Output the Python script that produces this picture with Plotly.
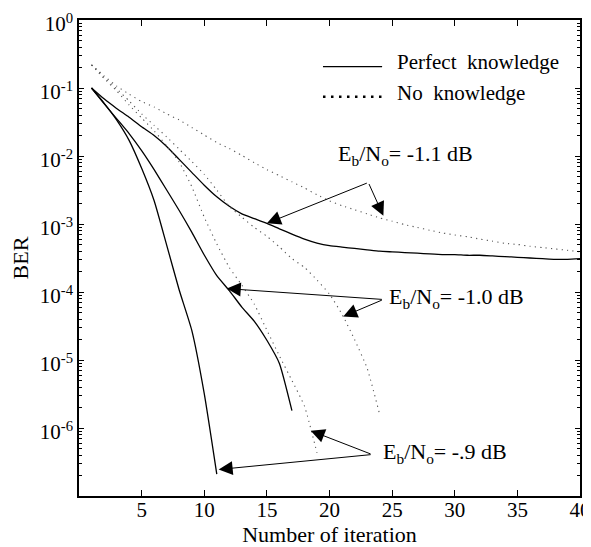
import plotly.graph_objects as go

# ---------------- data ----------------
iters_perf_09 = list(range(1, 12))
ber_perf_09 = [1.0e-1, 6.0e-2, 3.4e-2, 1.7e-2, 6.6e-3, 2.2e-3, 4.9e-4, 1.07e-4,
               2.75e-5, 3.2e-6, 2.1e-7]

iters_perf_10 = list(range(1, 18))
ber_perf_10 = [1.0e-1, 5.9e-2, 3.55e-2, 2.14e-2, 1.2e-2, 6.3e-3, 3.16e-3, 1.58e-3,
               7.6e-4, 3.5e-4, 1.74e-4, 1.05e-4, 6.0e-5, 3.7e-5, 1.95e-5, 8.9e-6,
               1.8e-6]

iters_perf_11 = list(range(1, 41))
ber_perf_11 = [1.0e-1, 6.92e-2, 5.01e-2, 3.72e-2, 2.69e-2, 2.0e-2, 1.38e-2, 8.91e-3,
               5.75e-3, 3.72e-3, 2.51e-3, 1.82e-3, 1.41e-3, 1.20e-3, 1.02e-3, 8.5e-4,
               7.1e-4, 6.0e-4, 5.25e-4, 4.8e-4, 4.57e-4, 4.37e-4, 4.17e-4, 3.98e-4,
               3.89e-4, 3.8e-4, 3.72e-4, 3.63e-4, 3.55e-4, 3.55e-4, 3.47e-4, 3.47e-4,
               3.39e-4, 3.31e-4, 3.24e-4, 3.16e-4, 3.09e-4, 3.02e-4, 3.02e-4, 3.09e-4]

iters_none_09 = list(range(1, 20))
ber_none_09 = [2.19e-1, 1.38e-1, 9.12e-2, 5.62e-2, 3.63e-2, 2.34e-2, 1.41e-2, 8.13e-3,
               3.55e-3, 1.26e-3, 5.1e-4, 2.3e-4, 1.26e-4, 6.6e-5, 2.75e-5, 1.15e-5,
               5.0e-6, 2.1e-6, 4.3e-7]

iters_none_10 = list(range(1, 25))
ber_none_10 = [2.19e-1, 1.45e-1, 9.77e-2, 6.46e-2, 4.17e-2, 2.82e-2, 1.91e-2, 1.26e-2,
               8.32e-3, 5.37e-3, 3.16e-3, 1.82e-3, 1.26e-3, 8.9e-4, 6.6e-4, 4.6e-4,
               3.1e-4, 2.3e-4, 1.5e-4, 9.3e-5, 4.7e-5, 2.0e-5, 7.6e-6, 1.6e-6]

iters_none_11 = list(range(1, 41))
ber_none_11 = [2.19e-1, 1.51e-1, 1.07e-1, 8.13e-2, 6.31e-2, 5.25e-2, 4.17e-2, 3.39e-2,
               2.63e-2, 2.04e-2, 1.58e-2, 1.29e-2, 1.02e-2, 7.94e-3, 6.31e-3, 5.13e-3,
               4.17e-3, 3.39e-3, 2.69e-3, 2.19e-3, 1.86e-3, 1.62e-3, 1.41e-3, 1.23e-3,
               1.10e-3, 9.8e-4, 8.9e-4, 8.1e-4, 7.4e-4, 6.9e-4, 6.5e-4, 6.0e-4,
               5.6e-4, 5.2e-4, 5.0e-4, 4.7e-4, 4.5e-4, 4.3e-4, 4.1e-4, 3.9e-4]

x_tick_vals = [5, 10, 15, 20, 25, 30, 35, 40]
y_tick_vals = [1e0, 1e-1, 1e-2, 1e-3, 1e-4, 1e-5, 1e-6]
y_tick_text = ["10<sup>0</sup>", "10<sup>-1</sup>", "10<sup>-2</sup>", "10<sup>-3</sup>",
               "10<sup>-4</sup>", "10<sup>-5</sup>", "10<sup>-6</sup>"]

legend_labels = ["Perfect  knowledge", "No  knowledge"]
snr_labels = ["E<sub>b</sub>/N<sub>o</sub>= -1.1 dB",
              "E<sub>b</sub>/N<sub>o</sub>= -1.0 dB",
              "E<sub>b</sub>/N<sub>o</sub>= -.9 dB"]

# ---------------- figure ----------------
FONT = "Liberation Serif"
fig = go.Figure()

solid = dict(color="black", width=1.3)
dotted = dict(color="#555555", width=1.1, dash="1.2px,4.2px")

for xs, ys in [(iters_perf_09, ber_perf_09), (iters_perf_10, ber_perf_10),
               (iters_perf_11, ber_perf_11)]:
    fig.add_trace(go.Scatter(x=xs, y=ys, mode="lines",
                             line=dict(**solid, shape="spline", smoothing=0.5),
                             showlegend=False, hoverinfo="skip"))
for xs, ys in [(iters_none_09, ber_none_09), (iters_none_10, ber_none_10),
               (iters_none_11, ber_none_11)]:
    fig.add_trace(go.Scatter(x=xs, y=ys, mode="lines",
                             line=dict(**dotted, shape="spline", smoothing=0.5),
                             showlegend=False, hoverinfo="skip"))

# annotation arrows: (vertex, [tips], label position) in (x, log10 y)
arrow_groups = [
    ((23.1, -2.39), [(15.0, -2.99), (24.3, -2.88)], (20.5, -1.99)),
    ((24.3, -4.11), [(11.8, -3.95), (21.1, -4.36)], (24.6, -4.09)),
    ((23.4, -6.39), [(11.15, -6.61), (18.5, -6.04)], (24.1, -6.37)),
]
for (vx, vy), tips, _ in arrow_groups:
    for hx, hy in tips:
        fig.add_annotation(x=hx, y=hy, ax=vx, ay=vy, xref="x", yref="y", axref="x", ayref="y",
                           showarrow=True, arrowhead=2, arrowsize=2.8, arrowwidth=1,
                           arrowcolor="black", text="", standoff=0)
for (_, _, (tx, ty)), lab in zip(arrow_groups, snr_labels):
    fig.add_annotation(x=tx, y=ty, xref="x", yref="y", text=lab, showarrow=False,
                       xanchor="left", yanchor="middle",
                       font=dict(family=FONT, size=22, color="black"))

# legend (drawn manually)
fig.add_shape(type="line", xref="paper", yref="paper", x0=0.487, x1=0.605, y0=0.902, y1=0.902,
              line=dict(color="black", width=1.2))
fig.add_shape(type="line", xref="paper", yref="paper", x0=0.487, x1=0.605, y0=0.839, y1=0.839,
              line=dict(color="black", width=2.5, dash="2.5px,5.5px"))
fig.add_annotation(x=0.631, y=0.911, xref="paper", yref="paper", text=legend_labels[0],
                   showarrow=False, xanchor="left", yanchor="middle",
                   font=dict(family=FONT, size=21, color="black"))
fig.add_annotation(x=0.631, y=0.846, xref="paper", yref="paper", text=legend_labels[1],
                   showarrow=False, xanchor="left", yanchor="middle",
                   font=dict(family=FONT, size=21, color="black"))

axis_common = dict(showline=True, linecolor="black", linewidth=1.5, mirror="ticks",
                   ticks="inside", tickcolor="black", tickwidth=1, showgrid=False, zeroline=False,
                   ticklabeloverflow="allow",
                   tickfont=dict(family=FONT, size=21, color="black"))

fig.update_xaxes(range=[0, 40], tickmode="array", tickvals=x_tick_vals, ticklen=6,
                 ticklabelstandoff=-6,
                 title=dict(text="Number of iteration",
                            font=dict(family=FONT, size=22, color="black"), standoff=18),
                 **axis_common)
fig.update_yaxes(type="log", range=[-7, 0], tickmode="array", tickvals=y_tick_vals,
                 ticktext=y_tick_text, ticklen=5, ticklabelshift=4,
                 minor=dict(ticks="inside", ticklen=3, dtick="D1", tickcolor="black",
                            showgrid=False),
                 title=dict(text="BER", font=dict(family=FONT, size=22, color="black"),
                            standoff=7),
                 **axis_common)

# the page body has an 8px margin, so the figure is 8px smaller and margins shifted
fig.update_layout(width=583, height=539,
                  margin=dict(l=71, r=11, t=12, b=51, autoexpand=False),
                  paper_bgcolor="white", plot_bgcolor="white", showlegend=False,
                  font=dict(family=FONT, size=21, color="black"))

fig.write_html("out.html")
